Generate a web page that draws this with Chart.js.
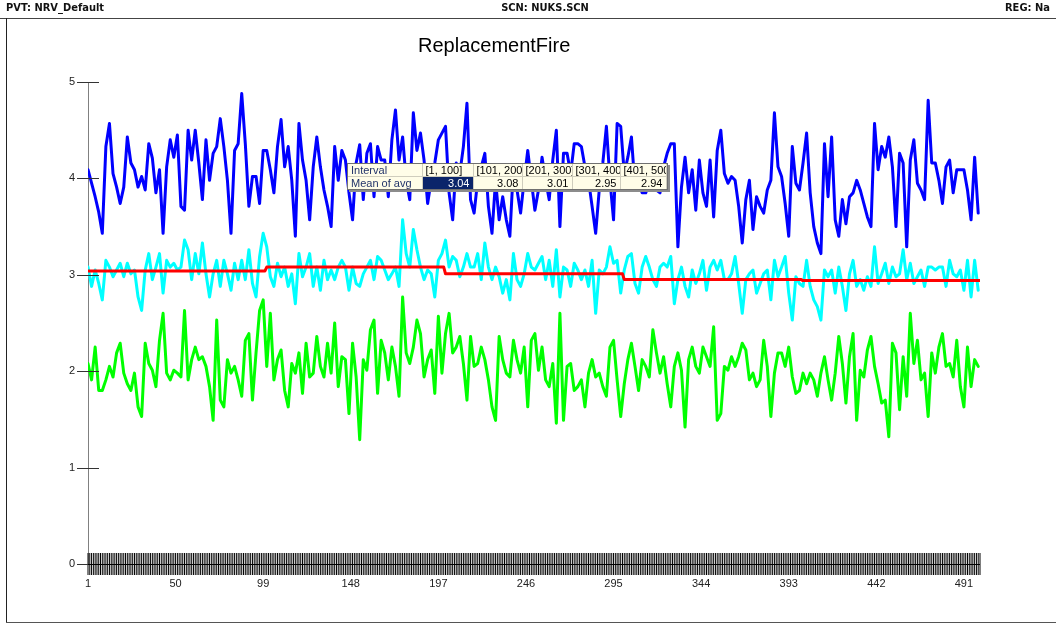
<!DOCTYPE html>
<html>
<head>
<meta charset="utf-8">
<title>ReplacementFire</title>
<script src="https://cdn.jsdelivr.net/npm/chart.js@4.4.1/dist/chart.umd.min.js"></script>
<style>
  html, body { margin: 0; padding: 0; background: #fff; }
  #wrap { position: relative; width: 1056px; height: 624px; overflow: hidden; }
  #chart { position: absolute; left: 0; top: 0; }
  .hdr { position: absolute; top: 1px; font: bold 11px "DejaVu Sans Condensed", "Liberation Sans Narrow", sans-serif; color: #111; white-space: nowrap; }
  #hline { position: absolute; left: 0; top: 18px; width: 1056px; height: 1px; background: #444; }
  #vline { position: absolute; left: 6px; top: 18px; width: 1px; height: 605px; background: #222; }
  #bline { position: absolute; left: 6px; top: 622px; width: 1050px; height: 1px; background: #555; }
  #title { position: absolute; left: 418px; top: 34px; font: 20px "Liberation Sans", Arial, sans-serif; color: #000; white-space: nowrap; }
  #tip { position: absolute; left: 347px; top: 163px; background: #fffde8; border: 1px solid #707070;
         box-shadow: 2px 2px 0 #8c8c8c; font: 11px "Liberation Sans", Arial, sans-serif; }
  #tip table { border-collapse: collapse; table-layout: fixed; width: 318px; }
  #tip td { height: 12px; line-height: 12px; padding: 0 3px; border-right: 1px solid #cfcdbd;
            white-space: nowrap; overflow: hidden; color: #000; }
  #tip tr:first-child td { border-bottom: 1px solid #cfcdbd; }
  #tip td.lab { color: #23346a; }
  #tip td.num { text-align: right; }
  #tip td.sel { background: #0a246a; color: #fff; }
</style>
</head>
<body>
<div id="wrap">
  <canvas id="chart" width="1056" height="624"></canvas>
  <div class="hdr" style="left:6px">PVT: NRV_Default</div>
  <div class="hdr" style="left:545px; transform: translateX(-50%)">SCN: NUKS.SCN</div>
  <div class="hdr" style="left:1005px">REG: Na</div>
  <div id="hline"></div>
  <div id="vline"></div>
  <div id="bline"></div>
  <div id="title">ReplacementFire</div>
  <div id="tip"></div>
</div>
<script>
// run index of the first read value and spacing between read values
const firstIndex = 1;
const sampleStep = 2;
const lastIndex = 500;

const xTickLabels = [1, 50, 99, 148, 197, 246, 295, 344, 393, 442, 491];
const yTicks = [0, 1, 2, 3, 4, 5];

// values, one every 2 runs
const blueValues = [
  4.09, 3.95, 3.81, 3.65, 3.43, 4.33, 4.57, 4.05, 3.91, 3.74, 3.91, 4.43, 4.16, 4.09, 3.91, 4.02, 3.88, 4.36, 4.21, 3.85, 4.09,
  3.43, 4.12, 4.40, 4.22, 4.45, 3.71, 3.67, 4.50, 4.19, 4.50, 4.16, 3.78, 4.40, 3.98, 4.26, 4.33, 4.62, 4.33, 3.98, 3.43, 4.29,
  4.36, 4.88, 4.36, 3.71, 4.02, 4.02, 3.74, 4.29, 4.29, 4.09, 3.85, 4.33, 4.61, 4.12, 4.33, 3.98, 3.40, 4.57, 4.19, 3.98,
  3.57, 4.12, 4.43, 4.12, 3.88, 3.71, 3.50, 4.33, 3.98, 4.29, 4.19, 3.85, 3.57, 4.16, 4.35, 3.78, 4.26, 4.36, 3.81, 4.33, 4.19,
  4.19, 3.81, 4.40, 4.71, 4.19, 4.43, 3.98, 3.78, 4.68, 4.29, 4.47, 4.19, 3.74, 3.98, 4.16, 4.40, 4.47, 4.54, 3.85, 3.57, 4.16,
  4.05, 4.33, 4.78, 3.78, 3.64, 3.98, 4.12, 4.26, 3.71, 3.43, 3.98, 3.57, 3.81, 3.57, 3.40, 4.12, 3.88, 3.64, 3.98, 4.29, 3.98,
  3.67, 3.88, 4.22, 3.98, 3.78, 4.19, 4.50, 3.50, 4.26, 4.26, 4.05, 4.36, 4.36, 4.33, 4.12, 3.98, 3.71, 3.43, 3.88, 4.16, 4.54,
  3.98, 3.57, 4.57, 4.54, 4.05, 4.22, 4.43, 3.91, 3.98, 3.85, 3.85, 3.95, 3.91, 3.88, 3.85, 4.12, 4.26, 4.36, 4.36, 3.29, 3.91,
  4.22, 3.85, 4.09, 3.67, 4.19, 3.85, 3.71, 4.19, 3.60, 4.29, 4.50, 4.05, 3.95, 4.02, 3.98, 3.71, 3.33, 3.78, 3.98, 3.47,
  3.81, 3.71, 3.64, 3.88, 3.98, 4.68, 4.12, 4.02, 3.74, 3.40, 4.33, 3.95, 3.88, 4.16, 4.47, 3.85, 3.50, 3.33, 3.22, 4.36, 3.81,
  4.43, 3.57, 3.40, 3.78, 3.53, 3.81, 3.85, 3.98, 3.88, 3.74, 3.60, 3.50, 4.57, 4.09, 4.33, 4.22, 4.43, 4.12, 3.50, 4.26, 4.16,
  3.29, 4.19, 4.40, 3.95, 3.88, 3.78, 4.81, 4.16, 4.16, 3.98, 3.74, 4.12, 4.19, 3.85, 4.09, 4.09, 4.09, 3.88, 3.57, 4.22, 3.64
];
const cyanValues = [
  3.08, 2.88, 3.05, 2.91, 2.74, 3.15, 3.08, 2.98, 3.05, 3.12, 2.98, 3.12, 3.01, 3.05, 2.77, 2.63, 3.05, 3.22, 2.95, 3.08, 3.22,
  2.81, 3.15, 3.08, 3.12, 3.05, 3.08, 3.36, 3.26, 2.95, 3.22, 3.01, 3.33, 3.01, 2.77, 3.01, 3.15, 2.88, 3.15, 3.01, 2.84, 3.12,
  2.95, 3.15, 2.95, 3.26, 2.91, 2.77, 3.19, 3.43, 3.29, 2.98, 2.88, 3.12, 2.98, 3.08, 2.88, 3.01, 2.70, 3.22, 2.98, 3.08,
  3.22, 2.88, 3.08, 2.84, 3.15, 2.95, 3.05, 2.95, 3.08, 3.15, 3.08, 2.84, 3.08, 2.91, 2.88, 3.01, 3.08, 3.15, 2.95, 3.19, 3.15,
  3.05, 2.95, 3.01, 3.08, 2.88, 3.57, 3.22, 3.08, 3.47, 3.26, 3.08, 2.95, 3.05, 3.01, 2.77, 3.15, 3.22, 3.36, 3.08, 3.19, 3.15,
  2.98, 3.08, 3.22, 3.08, 3.08, 3.22, 2.95, 3.33, 3.08, 2.95, 3.08, 2.98, 2.81, 2.95, 2.74, 3.22, 2.95, 2.88, 3.01, 3.22, 3.08,
  3.05, 3.12, 3.19, 2.95, 3.15, 2.88, 3.26, 2.77, 3.08, 3.05, 2.88, 3.12, 3.05, 2.95, 3.05, 2.88, 3.15, 2.60, 3.05, 3.01, 3.08,
  3.29, 3.12, 3.15, 2.81, 3.05, 3.19, 3.22, 2.91, 2.81, 3.08, 3.19, 3.08, 2.95, 2.88, 3.08, 3.12, 3.08, 3.19, 2.70, 2.95, 3.08,
  2.88, 2.77, 3.05, 2.91, 3.01, 3.15, 2.84, 3.08, 3.15, 3.05, 3.15, 2.95, 2.95, 3.01, 3.19, 2.91, 2.60, 2.95, 3.01, 3.05,
  2.81, 2.91, 3.01, 3.05, 2.74, 3.15, 2.98, 3.08, 3.19, 2.81, 2.53, 2.98, 2.91, 2.88, 3.15, 2.88, 2.74, 2.67, 2.53, 3.05, 2.98,
  3.05, 2.81, 3.08, 2.88, 2.63, 3.01, 3.15, 2.88, 2.95, 2.84, 2.98, 2.88, 3.29, 2.91, 3.01, 3.12, 2.91, 3.08, 2.98, 3.01, 3.26,
  2.95, 3.12, 2.91, 2.98, 3.05, 2.88, 3.08, 3.08, 3.05, 3.08, 3.08, 2.88, 3.15, 3.01, 2.98, 3.05, 2.84, 3.15, 2.77, 3.15, 2.84
];
const greenValues = [
  2.08, 1.91, 2.25, 1.80, 1.80, 1.91, 2.05, 1.94, 2.19, 2.29, 1.98, 1.87, 1.80, 1.98, 1.63, 1.53, 2.29, 2.08, 2.01, 1.84, 2.32,
  2.60, 1.98, 1.91, 2.01, 1.98, 1.94, 2.63, 1.91, 2.12, 2.25, 2.12, 2.15, 2.05, 1.84, 1.49, 2.53, 1.70, 1.63, 2.12, 1.98, 2.05,
  1.91, 1.74, 2.32, 2.39, 1.70, 2.19, 2.63, 2.74, 2.05, 2.60, 1.91, 2.12, 2.22, 1.80, 1.63, 2.08, 1.98, 2.19, 1.77, 2.29,
  1.94, 1.98, 2.36, 2.05, 1.94, 2.29, 1.98, 2.50, 1.84, 2.15, 2.12, 1.56, 2.29, 1.94, 1.29, 2.12, 2.01, 2.43, 2.53, 1.77, 2.32,
  2.19, 1.91, 2.25, 2.05, 1.74, 2.77, 2.19, 2.08, 2.25, 2.53, 2.39, 1.94, 2.12, 2.22, 1.77, 2.57, 1.98, 2.39, 2.60, 2.19, 2.25,
  2.36, 2.08, 1.70, 2.36, 2.05, 2.08, 2.25, 2.12, 1.91, 1.63, 1.49, 2.36, 2.12, 1.98, 1.94, 2.32, 2.12, 1.98, 2.25, 1.63, 2.32,
  2.39, 2.01, 2.25, 1.91, 1.84, 2.08, 1.46, 2.60, 1.49, 2.05, 2.08, 1.80, 1.84, 1.91, 1.63, 1.98, 2.12, 1.94, 1.98, 1.84, 1.74,
  2.25, 2.32, 1.91, 1.53, 1.87, 2.12, 2.29, 2.05, 1.80, 2.12, 2.05, 1.94, 2.43, 2.19, 1.98, 2.15, 1.87, 1.63, 2.05, 2.19, 2.01,
  1.42, 2.12, 2.25, 2.05, 1.98, 2.25, 2.15, 2.05, 2.46, 1.49, 1.56, 2.05, 2.01, 2.15, 2.05, 2.15, 2.29, 2.22, 1.91, 1.98,
  1.84, 1.91, 2.32, 2.05, 1.53, 1.98, 2.19, 2.19, 2.05, 2.25, 1.94, 1.77, 1.80, 1.98, 1.87, 1.98, 1.91, 1.74, 1.98, 2.15, 1.91,
  1.70, 1.98, 2.36, 2.08, 1.67, 2.15, 2.39, 1.49, 2.01, 1.94, 2.22, 2.36, 2.05, 1.87, 1.67, 1.70, 1.32, 2.29, 2.19, 1.60, 2.15,
  1.74, 2.60, 2.08, 2.32, 1.91, 1.98, 1.53, 2.19, 1.98, 2.25, 2.39, 2.05, 2.08, 1.94, 2.32, 1.84, 1.63, 2.25, 1.84, 2.12, 2.05
];

// interval means (red step line and the little table)
const intervalLabels = ["[1, 100]", "[101, 200]", "[201, 300]", "[301, 400]", "[401, 500]"];
const intervalStart = [1, 101, 201, 301, 401];
const intervalEnd = [100, 200, 300, 400, 500];
const meanOfAvg = [3.04, 3.08, 3.01, 2.95, 2.94];

const toPoints = vals => vals.map((v, i) => ({ x: firstIndex + i * sampleStep, y: v }));
const meanPoints = [];
intervalStart.forEach((s, i) => {
  meanPoints.push({ x: s, y: meanOfAvg[i] });
  meanPoints.push({ x: intervalEnd[i], y: meanOfAvg[i] });
});

// table overlay
(() => {
  const fmt = v => v.toFixed(2);
  let html = '<table><colgroup><col style="width:74px">' +
    '<col style="width:51px"><col style="width:49px"><col style="width:50px"><col style="width:48px"><col style="width:46px"></colgroup>';
  html += '<tr><td class="lab">Interval</td>' + intervalLabels.map(l => '<td>' + l + '</td>').join("") + '</tr>';
  html += '<tr><td class="lab">Mean of avg</td>' +
    meanOfAvg.map((m, i) => '<td class="num' + (i === 0 ? ' sel' : '') + '">' + fmt(m) + '</td>').join("") + '</tr>';
  html += '</table>';
  document.getElementById("tip").innerHTML = html;
})();

// one tick per run on the x axis, crossing the axis line; crossing ticks on y too
const crossTicks = {
  id: "crossTicks",
  afterDatasetsDraw(chart) {
    const { ctx, scales: { x, y }, chartArea } = chart;
    ctx.save();
    ctx.lineWidth = 1;
    ctx.strokeStyle = "#000";
    ctx.beginPath();
    for (let i = firstIndex; i <= lastIndex; i++) {
      const px = x.getPixelForValue(i);
      ctx.moveTo(px, chartArea.bottom - 11);
      ctx.lineTo(px, chartArea.bottom + 11);
    }
    ctx.stroke();
    ctx.strokeStyle = "#333";
    ctx.beginPath();
    yTicks.forEach(v => {
      const py = Math.round(y.getPixelForValue(v)) + 0.5;
      ctx.moveTo(chartArea.left - 11, py);
      ctx.lineTo(chartArea.left + 11, py);
    });
    ctx.stroke();
    ctx.strokeStyle = "#000";
    ctx.beginPath();
    ctx.moveTo(chartArea.left, chartArea.bottom + 0.5);
    ctx.lineTo(chartArea.right, chartArea.bottom + 0.5);
    ctx.stroke();
    ctx.restore();
  }
};

const lineDs = (label, data, color, width) => ({
  label, data, borderColor: color, backgroundColor: color, borderWidth: width,
  pointRadius: 0, tension: 0, borderJoinStyle: "round", borderCapStyle: "round", fill: false
});

new Chart(document.getElementById("chart"), {
  type: "line",
  data: {
    datasets: [
      lineDs("Mean of avg", meanPoints, "#ff0000", 3),
      lineDs("Blue", toPoints(blueValues), "#0000ff", 3),
      lineDs("Cyan", toPoints(cyanValues), "#00ffff", 3),
      lineDs("Green", toPoints(greenValues), "#00ff00", 3)
    ]
  },
  options: {
    responsive: false,
    animation: false,
    events: [],
    layout: { padding: { left: 0, top: 82, right: 76, bottom: 0 } },
    plugins: { legend: { display: false }, title: { display: false }, tooltip: { enabled: false } },
    scales: {
      x: {
        type: "linear",
        min: firstIndex,
        max: lastIndex,
        afterFit: s => { s.height = 60; },
        grid: { display: false, drawTicks: false },
        border: { display: false },
        ticks: {
          stepSize: 1,
          autoSkip: false,
          maxRotation: 0,
          padding: 13,
          color: "#222",
          font: { family: "'Liberation Sans', Arial, sans-serif", size: 11 },
          callback: v => xTickLabels.includes(v) ? String(v) : null
        }
      },
      y: {
        min: 0,
        max: 5,
        afterFit: s => { s.width = 88; },
        grid: { display: false, drawTicks: false },
        border: { display: true, color: "#808080", width: 1 },
        ticks: {
          stepSize: 1,
          padding: 13,
          color: "#222",
          font: { family: "'Liberation Sans', Arial, sans-serif", size: 11 }
        }
      }
    }
  },
  plugins: [crossTicks]
});
</script>
</body>
</html>
